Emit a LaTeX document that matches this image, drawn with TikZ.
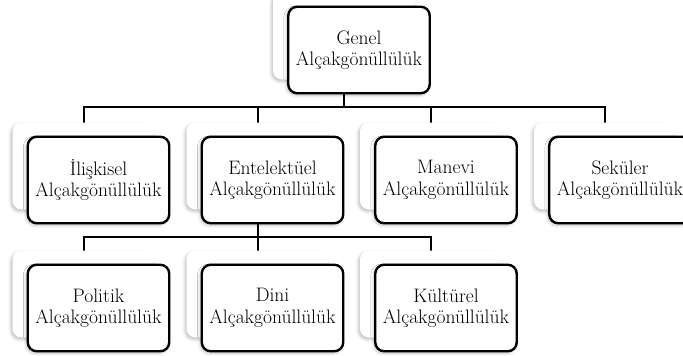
\documentclass[tikz,border=0pt]{standalone}
\usepackage{fontspec}
\usetikzlibrary{backgrounds,shadows.blur}
\tikzset{
  card/.style={fill=white, rounded corners=9pt, minimum width=142pt, minimum height=87pt,
    blur shadow={shadow xshift=-1.5pt, shadow yshift=-2pt, shadow blur radius=3pt, shadow opacity=25}},
  unit/.style={draw, fill=white, line width=2.4pt, rounded corners=9pt,
    minimum width=141.5pt, minimum height=86.5pt, align=center, text=black,
    font=\fontsize{19.5}{21.5}\selectfont,
    blur shadow={shadow xshift=-1.5pt, shadow yshift=-2pt, shadow blur radius=3pt, shadow opacity=25}},
  link/.style={line width=2pt}
}
\begin{document}
\begin{tikzpicture}[x=1pt, y=-1pt]
\useasboundingbox (0,0) rectangle (683,356);

% Cards and boxes
\foreach \x/\y/\n/\t in {344/36/genel/Genel,
    83.5/166/iliski/İlişkisel, 257.5/166/entel/Entelektüel,
    431/166/manevi/Manevi, 605/166/sekuler/Seküler,
    83.5/294/politik/Politik, 257.5/294/dini/Dini, 431/294/kultur/Kültürel} {
  \node[card] (\n-k) at (\x,\y) {};
  \node[unit] (\n) at (\x+15,\y+14) {\t\\Alçakgönüllülük};
}

% Connectors
\begin{scope}[on background layer]
\foreach \n in {iliski,entel,manevi,sekuler}
  \draw[link] (genel-k.center) -- ++(0,71) -| (\n-k.center);
\foreach \n in {politik,dini,kultur}
  \draw[link] (entel-k.center) -- ++(0,71) -| (\n-k.center);
\end{scope}

\end{tikzpicture}
\end{document}
